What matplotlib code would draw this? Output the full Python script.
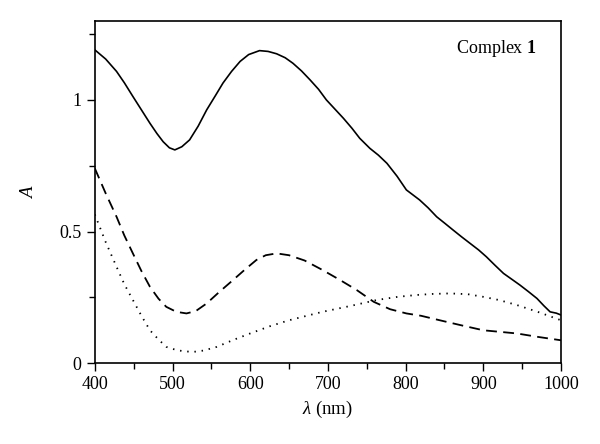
import numpy as np
import matplotlib
matplotlib.use("Agg")
import matplotlib.pyplot as plt

plt.rcParams['font.family'] = 'Liberation Serif'
plt.rcParams['mathtext.fontset'] = 'custom'
plt.rcParams['mathtext.rm'] = 'Liberation Serif'
plt.rcParams['mathtext.it'] = 'Liberation Serif:italic'
plt.rcParams['mathtext.bf'] = 'Liberation Serif:bold'

# solid curve
wl_solid = [400, 414, 428, 438, 449, 460, 471, 480, 488, 496, 503, 512, 522, 533, 544, 555,
            565, 576, 587, 598, 612, 623, 634, 645, 655, 666, 677, 688, 698, 709, 720,
            731, 741, 754, 765, 776, 789, 801, 818, 829, 840, 851, 861, 872, 883, 894,
            904, 915, 926, 937, 947, 958, 969, 978, 986, 994, 1000]
a_solid = [1.19, 1.155, 1.108, 1.065, 1.013, 0.962, 0.911, 0.872, 0.841, 0.818, 0.81, 0.822,
           0.848, 0.9, 0.962, 1.015, 1.064, 1.108, 1.146, 1.172, 1.187, 1.184, 1.175, 1.16,
           1.139, 1.11, 1.076, 1.04, 1.0, 0.965, 0.93, 0.892, 0.854, 0.816, 0.79, 0.759,
           0.71, 0.658, 0.62, 0.59, 0.556, 0.53, 0.506, 0.48, 0.455, 0.43, 0.404, 0.372,
           0.341, 0.318, 0.297, 0.272, 0.246, 0.218, 0.195, 0.19, 0.183]

# dashed curve
wl_dash = [400, 414, 428, 438, 449, 460, 471, 482, 492, 505, 518, 530, 544, 560, 578, 593,
           608, 620, 634, 650, 670, 693, 715, 737, 759, 780, 801, 820, 844, 870, 900,
           943, 970, 1000]
a_dash = [0.74, 0.645, 0.556, 0.485, 0.417, 0.35, 0.29, 0.245, 0.214, 0.195, 0.189, 0.198,
          0.227, 0.27, 0.316, 0.355, 0.392, 0.41, 0.417, 0.41, 0.39, 0.354, 0.317, 0.278,
          0.233, 0.205, 0.189, 0.18, 0.163, 0.145, 0.125, 0.113, 0.1, 0.087]

# dotted curve
wl_dot = [400, 414, 428, 438, 449, 460, 471, 482, 492, 505, 515, 527, 540, 557, 578, 600,
          625, 650, 693, 730, 763, 790, 814, 835, 857, 880, 900, 920, 943, 970, 1000]
a_dot = [0.565, 0.46, 0.366, 0.3, 0.24, 0.18, 0.125, 0.09, 0.062, 0.05, 0.045, 0.043, 0.048,
         0.062, 0.088, 0.113, 0.14, 0.163, 0.195, 0.218, 0.24, 0.252, 0.259, 0.263, 0.265,
         0.262, 0.252, 0.24, 0.221, 0.195, 0.163]

fig = plt.figure(figsize=(6, 4.44), dpi=100)
ax = fig.add_axes([0.158, 0.182, 0.777, 0.771])

ax.plot(wl_solid, a_solid, color='black', lw=1.2)
ax.plot(wl_dash, a_dash, color='black', lw=1.3, dashes=(6, 3.5))
ax.plot(wl_dot, a_dot, color='black', lw=1.3, linestyle=(0, (0.8, 3.2)))

ax.set_xlim(400, 1000)
ax.set_ylim(0, 1.30)
ax.set_xticks([400, 500, 600, 700, 800, 900, 1000])
ax.set_xticks(np.arange(450, 1000, 100), minor=True)
ax.set_yticks([0, 0.5, 1])
ax.set_yticklabels(['0', '0.5', '1'])
ax.set_yticks([0.25, 0.75, 1.25], minor=True)
ax.tick_params(which='both', direction='out', top=False, right=False, labelsize=13,
               width=1.0, color='black')
ax.tick_params(which='major', length=6)
ax.tick_params(which='minor', length=4)
for s in ax.spines.values():
    s.set_linewidth(1.2)

ax.set_xlabel(r'$\lambda$ (nm)', fontsize=13.5)
ax.set_ylabel(r'$A$', fontsize=13.5, labelpad=16)
ax.text(0.948, 0.92, r'Complex $\mathbf{1}$', transform=ax.transAxes, ha='right',
        va='center', fontsize=13)

fig.savefig('out.png', dpi=100)
